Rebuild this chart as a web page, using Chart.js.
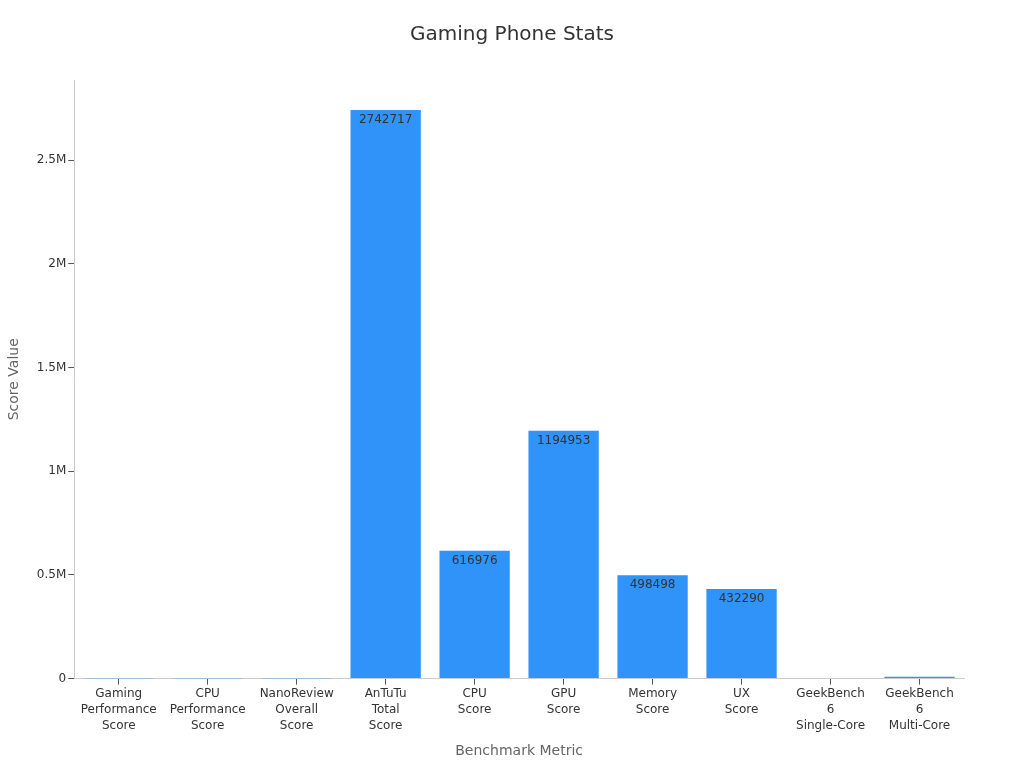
<!DOCTYPE html>
<html>
<head>
<meta charset="utf-8">
<script src="https://cdn.jsdelivr.net/npm/chart.js@4"></script>
<style>
  html, body { margin: 0; padding: 0; background: #fff; }
  #wrap { width: 1024px; height: 768px; }
</style>
</head>
<body>
<div id="wrap"><canvas id="statsChart"></canvas></div>
<script>
// Benchmark data
const categories = [
    ['Gaming', 'Performance', 'Score'],
    ['CPU', 'Performance', 'Score'],
    ['NanoReview', 'Overall', 'Score'],
    ['AnTuTu', 'Total', 'Score'],
    ['CPU', 'Score'],
    ['GPU', 'Score'],
    ['Memory', 'Score'],
    ['UX', 'Score'],
    ['GeekBench', '6', 'Single-Core'],
    ['GeekBench', '6', 'Multi-Core']
];
const scores = [95, 93, 94, 2742717, 616976, 1194953, 498498, 432290, 3000, 9500];
const yTicks = [0, 500000, 1000000, 1500000, 2000000, 2500000];
const yMax = 2887000;
const chartTitle = 'Gaming Phone Stats';

Chart.defaults.font.family = '"DejaVu Sans", sans-serif';
Chart.defaults.color = '#333';

// Title centred on the whole canvas, not on the plot box
const pageTitle = {
    id: 'pageTitle',
    afterDraw(chart) {
        const ctx = chart.ctx;
        ctx.save();
        ctx.font = '20px "DejaVu Sans", sans-serif';
        ctx.fillStyle = '#333';
        ctx.textAlign = 'center';
        ctx.textBaseline = 'middle';
        ctx.fillText(chartTitle, chart.width / 2, 35);
        ctx.restore();
    }
};

// Value labels drawn inside the top of each tall bar
const barLabels = {
    id: 'barLabels',
    afterDatasetsDraw(chart) {
        const ctx = chart.ctx;
        const meta = chart.getDatasetMeta(0);
        ctx.save();
        ctx.font = '12px "DejaVu Sans", sans-serif';
        ctx.fillStyle = '#333';
        ctx.textAlign = 'center';
        ctx.textBaseline = 'top';
        meta.data.forEach((bar, i) => {
            if (bar.base - bar.y < 20) return;
            ctx.fillText(String(scores[i]), bar.x, bar.y + 4);
        });
        ctx.restore();
    }
};

new Chart(document.getElementById('statsChart'), {
    type: 'bar',
    data: {
        labels: categories,
        datasets: [{
            label: 'Score Value',
            data: scores,
            backgroundColor: '#2f93fa',
            borderWidth: 0,
            barPercentage: 0.79,
            categoryPercentage: 1.0
        }]
    },
    options: {
        responsive: true,
        maintainAspectRatio: false,
        animation: false,
        layout: { padding: { left: 3, right: 60, top: 80, bottom: 1 } },
        plugins: {
            legend: { display: false },
            tooltip: { enabled: false },
            title: { display: false }
        },
        scales: {
            x: {
                grid: { display: true, offset: false, drawOnChartArea: false, drawTicks: true, tickLength: 6, tickColor: '#555' },
                border: { color: '#ccc' },
                ticks: { color: '#333', font: { size: 12, lineHeight: 1.35 }, maxRotation: 0, autoSkip: false, padding: 1 },
                title: { display: true, text: 'Benchmark Metric', color: '#666', font: { size: 14 }, padding: { top: 8, bottom: 7 } }
            },
            y: {
                min: 0,
                max: yMax,
                afterBuildTicks(axis) {
                    axis.ticks = yTicks.map(v => ({ value: v }));
                },
                grid: { display: true, drawOnChartArea: false, drawTicks: true, tickLength: 6, tickColor: '#555' },
                border: { color: '#ccc' },
                ticks: {
                    color: '#333',
                    font: { size: 12 },
                    padding: 2,
                    callback: v => v === 0 ? '0' : (v / 1000000) + 'M'
                },
                title: { display: true, text: 'Score Value', color: '#666', font: { size: 14 }, padding: { top: 3, bottom: 12 } }
            }
        }
    },
    plugins: [barLabels, pageTitle]
});
</script>
</body>
</html>
